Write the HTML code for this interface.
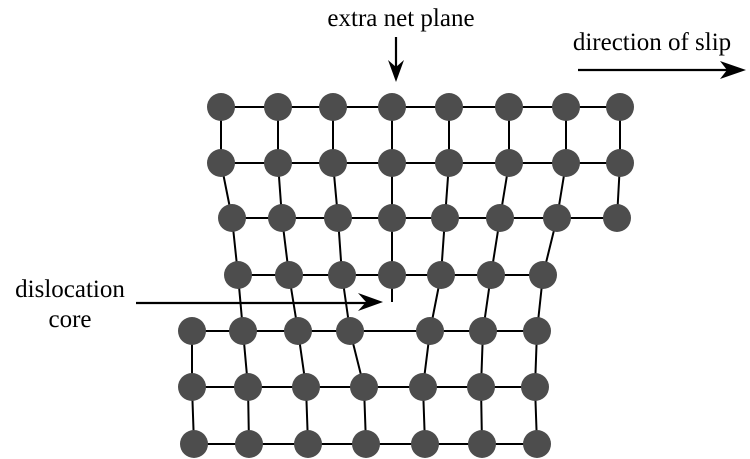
<!DOCTYPE html>
<html><head><style>body{margin:0;background:#fff}svg{display:block}</style></head><body>
<svg width="750" height="459" viewBox="0 0 750 459" xmlns="http://www.w3.org/2000/svg">
<g font-family="Liberation Serif, serif" font-size="25" fill="#000">
<text x="401" y="26" text-anchor="middle">extra net plane</text>
<text x="652" y="50" text-anchor="middle">direction of slip</text>
<text x="70" y="297" text-anchor="middle">dislocation</text>
<text x="70" y="327" text-anchor="middle">core</text>
</g>
<g stroke="#000" stroke-width="2.2" fill="none">
<line x1="396" y1="37" x2="396" y2="72"/>
<line x1="578" y1="70" x2="730" y2="70"/>
<line x1="136" y1="303" x2="370" y2="303"/>
</g>
<g fill="#000">
<path d="M388 60 L396 82 L404 60 L396 67 Z"/>
<path d="M720 61 L746 70 L720 79 L727 70 Z"/>
<path d="M358 293 L383 302 L358 311 L366 302 Z"/>
</g>
<path stroke="#000" stroke-width="2" fill="none" d="
M221 107H620 M221 163H620 M232 218H617 M238 275H543 M192 331H537 M192 387H535 M194 444H537
M221 107V163 M278 107V163 M333 107V163 M392 107V163 M449 107V163 M509 107V163 M566 107V163 M620 107V163
M221 163L232 218 M278 163L282 218 M333 163L338 218 M392 163L392 218 M449 163L445 218 M509 163L500 218 M566 163L557 218 M620 163L617 218
M232 218L238 275 M282 218L289 275 M338 218L342 275 M392 218L392 275 M445 218L441 275 M500 218L491 275 M557 218L543 275
M238 275L243 331 M289 275L298 331 M342 275L350 331 M392 275L392 302 M441 275L430 331 M491 275L483 331 M543 275L537 331
M192 331L192 387 M243 331L248 387 M298 331L306 387 M350 331L364 387 M430 331L423 387 M483 331L481 387 M537 331L535 387
M192 387L194 444 M248 387L249 444 M306 387L308 444 M364 387L366 444 M423 387L425 444 M481 387L482 444 M535 387L537 444"/>
<g fill="#4d4d4d">
<circle cx="221" cy="107" r="14"/><circle cx="278" cy="107" r="14"/><circle cx="333" cy="107" r="14"/><circle cx="392" cy="107" r="14"/><circle cx="449" cy="107" r="14"/><circle cx="509" cy="107" r="14"/><circle cx="566" cy="107" r="14"/><circle cx="620" cy="107" r="14"/>
<circle cx="221" cy="163" r="14"/><circle cx="278" cy="163" r="14"/><circle cx="333" cy="163" r="14"/><circle cx="392" cy="163" r="14"/><circle cx="449" cy="163" r="14"/><circle cx="509" cy="163" r="14"/><circle cx="566" cy="163" r="14"/><circle cx="620" cy="163" r="14"/>
<circle cx="232" cy="218" r="14"/><circle cx="282" cy="218" r="14"/><circle cx="338" cy="218" r="14"/><circle cx="392" cy="218" r="14"/><circle cx="445" cy="218" r="14"/><circle cx="500" cy="218" r="14"/><circle cx="557" cy="218" r="14"/><circle cx="617" cy="218" r="14"/>
<circle cx="238" cy="275" r="14"/><circle cx="289" cy="275" r="14"/><circle cx="342" cy="275" r="14"/><circle cx="392" cy="275" r="14"/><circle cx="441" cy="275" r="14"/><circle cx="491" cy="275" r="14"/><circle cx="543" cy="275" r="14"/>
<circle cx="192" cy="331" r="14"/><circle cx="243" cy="331" r="14"/><circle cx="298" cy="331" r="14"/><circle cx="350" cy="331" r="14"/><circle cx="430" cy="331" r="14"/><circle cx="483" cy="331" r="14"/><circle cx="537" cy="331" r="14"/>
<circle cx="192" cy="387" r="14"/><circle cx="248" cy="387" r="14"/><circle cx="306" cy="387" r="14"/><circle cx="364" cy="387" r="14"/><circle cx="423" cy="387" r="14"/><circle cx="481" cy="387" r="14"/><circle cx="535" cy="387" r="14"/>
<circle cx="194" cy="444" r="14"/><circle cx="249" cy="444" r="14"/><circle cx="308" cy="444" r="14"/><circle cx="366" cy="444" r="14"/><circle cx="425" cy="444" r="14"/><circle cx="482" cy="444" r="14"/><circle cx="537" cy="444" r="14"/>
</g>
</svg>
</body></html>
